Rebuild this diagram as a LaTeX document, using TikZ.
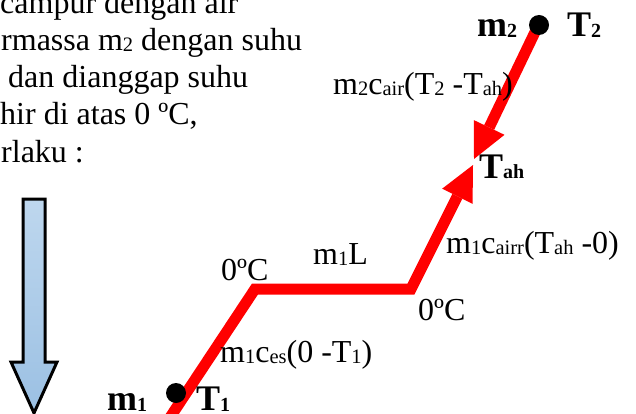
\documentclass[tikz,border=0pt]{standalone}
\usepackage{fontspec}
\setmainfont{Liberation Serif}
\usetikzlibrary{arrows.meta}
\definecolor{arrowtop}{RGB}{190,215,238}
\definecolor{arrowbot}{RGB}{155,192,227}
\newcommand{\rs}[1]{\raisebox{-1pt}{\fontsize{20.5}{20}\selectfont #1}}
\newcommand{\bs}[1]{\raisebox{-1pt}{\fontsize{20}{20}\selectfont\bfseries #1}}
\begin{document}
\begin{tikzpicture}[x=1pt,y=-1pt,
  txt/.style={anchor=base west,inner sep=0pt,font=\fontsize{32}{37}\selectfont},
  btxt/.style={anchor=base west,inner sep=0pt,font=\fontsize{36}{40}\selectfont\bfseries},
  redline/.style={draw=red,line width=11pt},
  redtip/.style={-{Triangle[width=34pt,length=35pt,line width=0pt]}},
  dot/.style={circle,fill=black,inner sep=0pt,minimum size=20pt}]
\useasboundingbox (0,0) rectangle (636,414);
% paragraph (cropped)
\node[txt] (p1) at (0,14) {campur dengan air};
\node[txt] (p2) at (1,51) {rmassa m\rs{2} dengan suhu};
\node[txt] (p3) at (8,88) {dan dianggap suhu};
\node[txt] (p4) at (0,125) {hir di atas 0 ºC,};
\node[txt] (p5) at (1,162) {rlaku :};
% blue arrow
\shadedraw[top color=arrowtop,bottom color=arrowbot,draw=black,line width=3pt,line join=miter]
  (23,199) -- (45,199) -- (45,362) -- (57,362) -- (34,413) -- (11,362) -- (23,362) -- cycle;
% red path
\coordinate (s1) at (165,425);
\coordinate (c1) at (255,289);
\coordinate (c2) at (411,289);
\coordinate (t1) at (473,165);
\coordinate (d0) at (536,30);
\coordinate (t2) at (474,159);
\draw[redline,redtip] (s1) -- (c1) -- (c2) -- (t1);
\draw[redline,redtip] (d0) -- (t2);
% dots
\node[dot] (m1dot) at (176,393) {};
\node[dot] (m2dot) at (539,25) {};
% bold labels
\node[btxt] (m2) at (477,37) {m\bs{2}};
\node[btxt] (T2) at (567,37) {T\bs{2}};
\node[btxt] (Tah) at (479,178) {T\bs{ah}};
\node[btxt] (m1) at (107,410) {m\bs{1}};
\node[btxt] (T1) at (196,410) {T\bs{1}};
% labels
\node[txt] (q2) at (333,95) {m\rs{2}c\rs{air}(T\rs{2} -T\rs{ah})};
\node[txt] (q3) at (446,253) {m\rs{1}c\rs{airr}(T\rs{ah} -0)};
\node[txt] (qL) at (313,264) {m\rs{1}L};
\node[txt] (z1) at (221,280) {0ºC};
\node[txt] (z2) at (418,320) {0ºC};
\node[txt] (q1) at (220,362) {m\rs{1}c\rs{es}(0 -T\rs{1})};
\end{tikzpicture}
\end{document}
